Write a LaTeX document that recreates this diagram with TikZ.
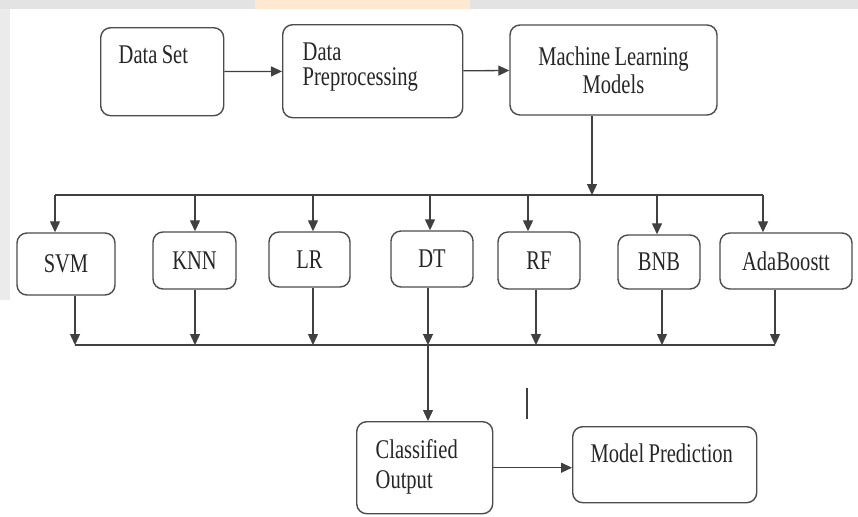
\documentclass[tikz,border=0pt]{standalone}
\usepackage{fontspec}
\setmainfont[FakeStretch=0.76, WordSpace=0.85]{Liberation Serif}
\usetikzlibrary{arrows.meta}

\begin{document}
\begin{tikzpicture}[x=0.5pt,y=-0.5pt,
  font=\fontsize{13.5}{14}\selectfont,
  block/.style={draw=black!70, line width=0.7pt, rounded corners=5pt, align=center, inner sep=0pt, text=black!85},
  corner/.style={block, align=flush left, inner xsep=9pt, inner ysep=0pt, anchor=north west},
  link/.style={draw=black!75, line width=0.65pt, -{Triangle[length=5.5pt,width=5pt]}},
  bus/.style={draw=black!75, line width=0.65pt}]

% page with the grey band along the top
\useasboundingbox (0,0) rectangle (858,516);
\fill[white] (0,0) rectangle (858,516);
\fill[gray!22] (0,0) rectangle (858,9);
\fill[orange!18] (255,0) rectangle (470,9);
\fill[gray!16] (0,9) rectangle (10,300);

% first row
\node[corner, text width=43.5pt, text height=18pt, text depth=26pt] (ds) at (100,27) {Data Set};
\node[corner, inner xsep=10pt, text width=70pt, text height=18pt, text depth=28.5pt, font=\fontsize{13.5}{12.5}\selectfont] (dp) at (282,24) {Data\\Preprocessing};
\node[block, minimum width=103.5pt, minimum height=45pt] (ml) at (613.5,70) {Machine Learning\\Models};

% the models
\node[block, minimum width=49pt, minimum height=31pt] (svm) at (66,264) {SVM};
\node[block, minimum width=41.5pt, minimum height=28.5pt] (knn) at (194.5,260.5) {KNN};
\node[block, minimum width=40.5pt, minimum height=27.5pt] (lr) at (309.5,259.5) {LR};
\node[block, minimum width=41pt, minimum height=28pt] (dt) at (432,259) {DT};
\node[block, minimum width=41pt, minimum height=28.5pt] (rf) at (539,260.5) {RF};
\node[block, minimum width=41pt, minimum height=27pt] (bnb) at (659,262) {BNB};
\node[block, minimum width=66pt, minimum height=28pt] (ada) at (786,261) {AdaBoostt};

% last row
\node[corner, inner xsep=9.5pt, text width=49pt, text height=18.5pt, text depth=27.5pt, font=\fontsize{13.5}{15}\selectfont] (co) at (356,421) {Classified\\Output};
\node[corner, text width=74pt, text height=18pt, text depth=20pt] (mp) at (572,426) {Model Prediction};

% bus points
\coordinate (mlin) at (592,195);
\coordinate (t1) at (55,195);
\coordinate (t2) at (195,195);
\coordinate (t3) at (313,195);
\coordinate (t4) at (430,195);
\coordinate (t5) at (528,195);
\coordinate (t6) at (657,195);
\coordinate (t7) at (763,195);
\coordinate (b1) at (75,345);
\coordinate (b2) at (195,345);
\coordinate (b3) at (313,345);
\coordinate (b4) at (428,345);
\coordinate (b5) at (536,345);
\coordinate (b6) at (662,345);
\coordinate (b7) at (775,345);
\coordinate (m1) at (527,388);
\coordinate (m2) at (527,419);

\path[link] (ds) -- (dp);
\path[link] (dp) -- (ml);
\path[link] (ml.south -| mlin) -- (mlin);

\path[bus] (t1) -- (t7);
\path[link] (t1) -- (t1 |- svm.north);
\path[link] (t2) -- (t2 |- knn.north);
\path[link] (t3) -- (t3 |- lr.north);
\path[link] (t4) -- (t4 |- dt.north);
\path[link] (t5) -- (t5 |- rf.north);
\path[link] (t6) -- (t6 |- bnb.north);
\path[link] (t7) -- (t7 |- ada.north);

\path[link] (svm.south -| b1) -- (b1);
\path[link] (knn.south -| b2) -- (b2);
\path[link] (lr.south -| b3) -- (b3);
\path[link] (dt.south -| b4) -- (b4);
\path[link] (rf.south -| b5) -- (b5);
\path[link] (bnb.south -| b6) -- (b6);
\path[link] (ada.south -| b7) -- (b7);
\path[bus] (b1) -- (b7);

\path[link] (b4) -- (b4 |- co.north);
\path[link] (co.east) -- (co.east -| mp.west);
\path[bus] (m1) -- (m2);
\end{tikzpicture}
\end{document}
